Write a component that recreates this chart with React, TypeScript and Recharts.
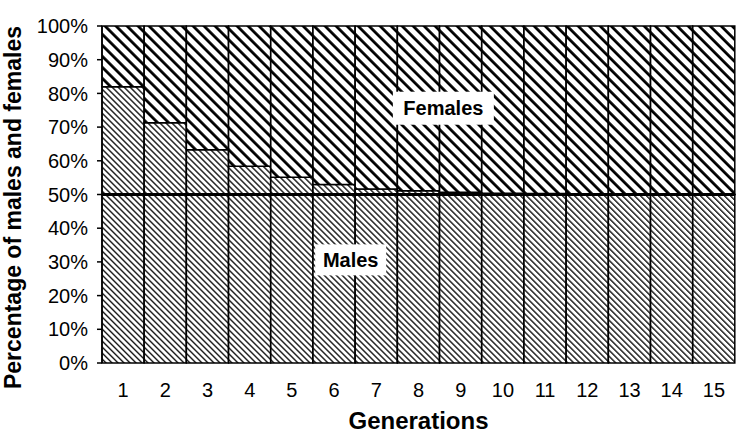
import { BarChart, Bar, XAxis, YAxis, ReferenceLine, ReferenceDot } from "recharts";

const generations = ["1", "2", "3", "4", "5", "6", "7", "8", "9", "10", "11", "12", "13", "14", "15"];
const malePct = [82, 71.3, 63.3, 58.4, 55.1, 53, 51.6, 51.1, 50.7, 50.4, 50.3, 50.2, 50.1, 50.05, 50.03];
const equalShare = 50;
const yTicks = [0, 10, 20, 30, 40, 50, 60, 70, 80, 90, 100];
const edgeTicks = [0, 1, 2, 3, 4, 5, 6, 7, 8, 9, 10, 11, 12, 13, 14, 15];

const data = generations.map((gen, i) => ({
  gen,
  base: equalShare,
  extra: malePct[i] - equalShare,
  female: 100 - malePct[i],
}));

const FONT = "'Liberation Sans', Arial, Helvetica, sans-serif";

const BoxLabel = ({ viewBox, text, w, h }: any) => {
  const cx = viewBox.x + viewBox.width / 2;
  const cy = viewBox.y + viewBox.height / 2;
  return (
    <g>
      <rect x={cx - w / 2} y={cy - h / 2} width={w} height={h} fill="#fff" />
      <text x={cx} y={cy} textAnchor="middle" dominantBaseline="central" fontFamily={FONT} fontWeight="bold" fontSize={20} fill="#000">
        {text}
      </text>
    </g>
  );
};

const YTitle = ({ viewBox }: any) => {
  const x = viewBox.x + 21;
  const y = viewBox.y + viewBox.height / 2 + 13;
  return (
    <text x={x} y={y} transform={`rotate(-90 ${x} ${y})`} textAnchor="middle" fontFamily={FONT} fontWeight="bold" fontSize={23} fill="#000">
      Percentage of males and females
    </text>
  );
};

export default function App() {
  return (
    <div style={{ position: "absolute", left: 0, top: 0, background: "#fff" }}>
      <BarChart width={738} height={433} data={data} margin={{ top: 26, right: 3, bottom: 0, left: 0 }} barCategoryGap={0}>
        <defs>
          <pattern id="maleHatch" patternUnits="userSpaceOnUse" width={4.24} height={4.24} patternTransform="rotate(-45)">
            <rect x={0} y={0} width={4.24} height={4.24} fill="#fff" />
            <rect x={0} y={0} width={1.3} height={4.24} fill="#000" />
          </pattern>
          <pattern id="femaleHatch" patternUnits="userSpaceOnUse" width={7.78} height={7.78} patternTransform="rotate(-45)">
            <rect x={0} y={0} width={7.78} height={7.78} fill="#fff" />
            <rect x={0} y={0} width={2.8} height={7.78} fill="#000" />
          </pattern>
        </defs>
        <XAxis
          xAxisId="edge"
          type="number"
          domain={[0, 15]}
          ticks={edgeTicks}
          tickFormatter={() => ""}
          height={0}
          tickSize={7}
          tickLine={{ stroke: "#000", strokeWidth: 1.5 }}
          axisLine={{ stroke: "#000", strokeWidth: 1.5 }}
          allowDataOverflow
        />
        <XAxis
          xAxisId="cat"
          dataKey="gen"
          height={70}
          tickSize={0}
          tickMargin={20}
          axisLine={false}
          tickLine={false}
          tick={{ fill: "#000", fontSize: 20, fontFamily: FONT }}
          interval={0}
          label={{ value: "Generations", position: "insideBottom", offset: 4, fill: "#000", fontSize: 24, fontWeight: "bold", fontFamily: FONT }}
        />
        <YAxis
          width={102}
          domain={[0, 100]}
          ticks={yTicks}
          tickFormatter={(v: number) => `${v}%`}
          tickSize={5}
          tickMargin={9}
          tick={{ fill: "#000", fontSize: 20, fontFamily: FONT }}
          tickLine={{ stroke: "#000", strokeWidth: 1.5 }}
          axisLine={{ stroke: "#000", strokeWidth: 1.5 }}
          label={<YTitle />}
        />
        <Bar xAxisId="cat" dataKey="base" stackId="s" fill="url(#maleHatch)" stroke="#000" strokeWidth={1.5} isAnimationActive={false} />
        <Bar xAxisId="cat" dataKey="extra" stackId="s" fill="url(#maleHatch)" stroke="#000" strokeWidth={1.5} isAnimationActive={false} />
        <Bar xAxisId="cat" dataKey="female" stackId="s" fill="url(#femaleHatch)" stroke="#000" strokeWidth={1.5} isAnimationActive={false} />
        <ReferenceLine xAxisId="cat" y={equalShare} stroke="#000" strokeWidth={3} />
        <ReferenceDot xAxisId="edge" x={7.55} y={75.6} r={0} fill="none" stroke="none" label={<BoxLabel text="Females" w={101} h={33} />} />
        <ReferenceDot xAxisId="edge" x={5.5} y={30.6} r={0} fill="none" stroke="none" label={<BoxLabel text="Males" w={71} h={31} />} />
      </BarChart>
    </div>
  );
}
